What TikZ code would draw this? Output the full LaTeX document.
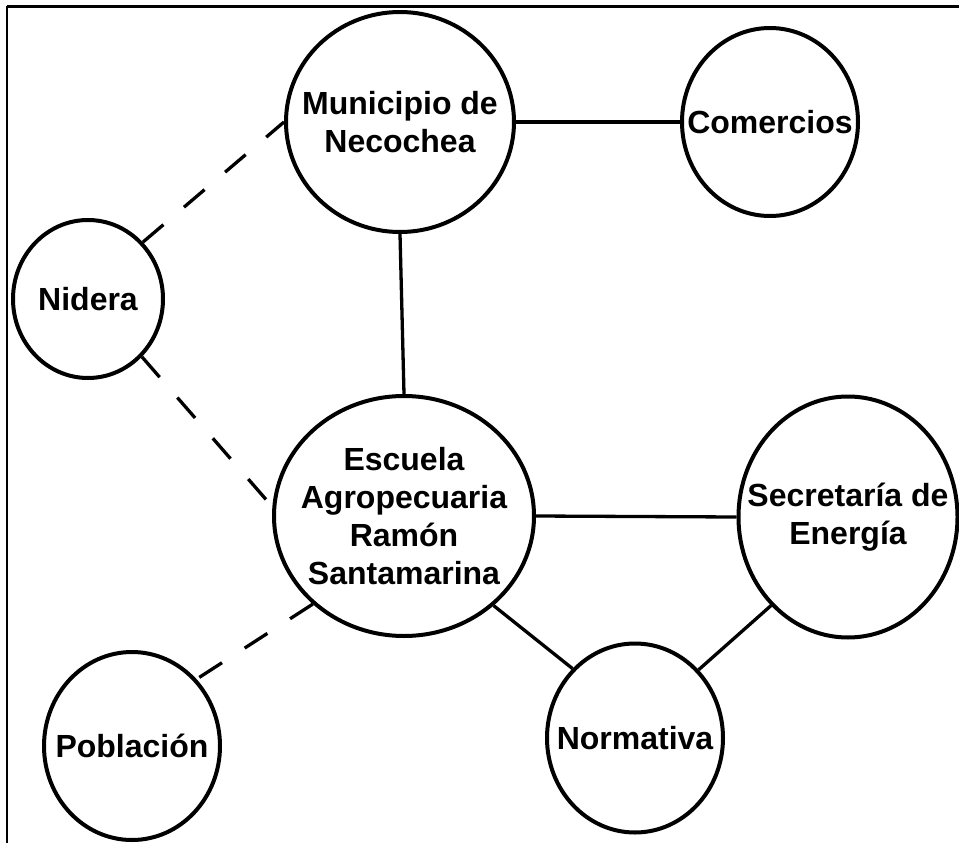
\documentclass[tikz,border=0pt]{standalone}
\usepackage{fontspec}
\setmainfont{Liberation Sans}
\usetikzlibrary{shapes.geometric}
\tikzset{
  actor/.style={ellipse, draw, line width=4pt, inner sep=0pt},
  nombre/.style={font=\fontsize{32}{38}\selectfont\bfseries, align=center},
  enlace/.style={line width=3.3pt},
  debil/.style={line width=3.3pt, dash pattern=on 27pt off 27pt},
}

\begin{document}
\begin{tikzpicture}[x=1pt, y=-1pt]
  \useasboundingbox (0,0) rectangle (959,843);

  % frame
  \draw[line width=2.5pt] (7,6.5) -- (959,6.5);
  \draw[line width=1.5pt] (7,6.5) -- (7,843);

  % actors
  \node[actor, minimum width=228pt, minimum height=220pt, label={[nombre]center:Municipio de\\Necochea}] (mun) at (400,122) {};
  \node[actor, minimum width=176pt, minimum height=188pt, label={[nombre]center:Comercios}] (com) at (770,122) {};
  \node[actor, minimum width=150pt, minimum height=158pt, label={[nombre]center:Nidera}] (nid) at (88,299) {};
  \node[actor, minimum width=260pt, minimum height=240pt, label={[nombre]center:Escuela\\Agropecuaria\\Ramón\\Santamarina}] (esc) at (404,516) {};
  \node[actor, minimum width=219pt, minimum height=241pt, label={[nombre]center:Secretaría de\\Energía}] (sec) at (848,517) {};
  \node[actor, minimum width=176pt, minimum height=188pt, label={[nombre]center:Población}] (pob) at (132,746) {};
  \node[actor, minimum width=176pt, minimum height=189pt, label={[nombre]center:Normativa}] (nor) at (635,738) {};

  % solid links
  \draw[enlace] (mun.east) -- (com.west);
  \draw[enlace] (mun.south) -- (esc.north);
  \draw[enlace] (esc.east) -- (sec.west);
  \draw[enlace] (esc.-45) -- (nor.132);
  \draw[enlace] (sec.-131) -- (nor.47);

  % dashed links
  \draw[debil] (nid.46) -- (mun.west);
  \draw[debil] (nid.-47) -- (esc.176);
  \draw[debil] (esc.-136) -- (pob.46);
\end{tikzpicture}
\end{document}
